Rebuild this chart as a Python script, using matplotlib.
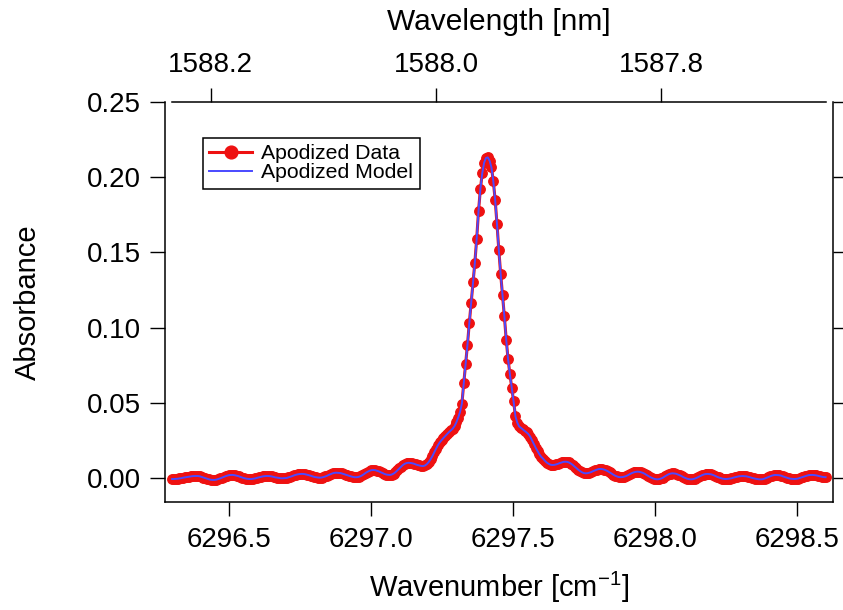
import numpy as np
import matplotlib
matplotlib.use("Agg")
import matplotlib.pyplot as plt
from matplotlib.ticker import FormatStrFormatter

plt.rcParams['font.family'] = ['Liberation Sans', 'DejaVu Sans']
plt.rcParams['mathtext.fontset'] = 'custom'
plt.rcParams['mathtext.rm'] = 'Liberation Sans'
plt.rcParams['mathtext.it'] = 'Liberation Sans:italic'

# Apodized spectrum (uniform wavenumber sampling)
wn_first = 6296.300
wn_last = 6298.601
absorbance = [
    -0.0007, -0.0007, -0.0006, -0.0005, -0.0003, -0.0001, 0.0002, 0.0004, 0.0006, 0.0008, 0.0010, 0.0012, 0.0013, 0.0013,
    0.0013, 0.0011, 0.0007, 0.0003, -0.0001, -0.0005, -0.0009, -0.0012, -0.0013,
    -0.0013, -0.0011, -0.0007, -0.0003, 0.0002, 0.0007, 0.0012, 0.0016, 0.0019, 0.0020,
    0.0020, 0.0018, 0.0015, 0.0012, 0.0007, 0.0003, -0.0001, -0.0004, -0.0006, -0.0007,
    -0.0007, -0.0005, -0.0003, 0.0001, 0.0004, 0.0007, 0.0010, 0.0012, 0.0013,
    0.0013, 0.0012, 0.0010, 0.0007, 0.0004, 0.0002, 0.0000, -0.0002, -0.0002,
    -0.0001, 0.0000, 0.0004, 0.0008, 0.0012, 0.0017, 0.0021, 0.0024, 0.0026, 0.0027,
    0.0027, 0.0025, 0.0022, 0.0019, 0.0015, 0.0011, 0.0007, 0.0005, 0.0003, 0.0002,
    0.0003, 0.0006, 0.0010, 0.0015, 0.0021, 0.0026, 0.0031, 0.0034, 0.0035,
    0.0034, 0.0033, 0.0030, 0.0026, 0.0022, 0.0018, 0.0014, 0.0010, 0.0007, 0.0005, 0.0005,
    0.0007, 0.0011, 0.0018, 0.0026, 0.0035, 0.0042, 0.0048, 0.0052, 0.0053,
    0.0052, 0.0048, 0.0044, 0.0038, 0.0033, 0.0027, 0.0023, 0.0021, 0.0020,
    0.0023, 0.0029, 0.0038, 0.0050, 0.0063, 0.0075, 0.0086, 0.0094, 0.0099, 0.0101,
    0.0100, 0.0098, 0.0095, 0.0090, 0.0086, 0.0083, 0.0080, 0.0079,
    0.0083, 0.0092, 0.0106, 0.0124, 0.0145, 0.0170, 0.0195, 0.0218, 0.0237, 0.0252, 0.0266,
    0.0279, 0.0292, 0.0305, 0.0316, 0.0328, 0.0345, 0.0370, 0.0402, 0.0440, 0.0495,
    0.0630, 0.0755, 0.0885, 0.1030, 0.1165, 0.1300, 0.1430, 0.1590, 0.1775, 0.1920, 0.2025, 0.2095,
    0.2128, 0.2132, 0.2110, 0.2065, 0.1975, 0.1850, 0.1690, 0.1515, 0.1355, 0.1215, 0.1075, 0.0920,
    0.0790, 0.0690, 0.0600, 0.0510, 0.0410, 0.0368,
    0.0343, 0.0333, 0.0323, 0.0313, 0.0303, 0.0292, 0.0275, 0.0250, 0.0225, 0.0200, 0.0178, 0.0157,
    0.0140, 0.0128, 0.0114, 0.0102, 0.0094, 0.0088, 0.0086,
    0.0087, 0.0090, 0.0094, 0.0099, 0.0103, 0.0107, 0.0108,
    0.0107, 0.0103, 0.0096, 0.0087, 0.0076, 0.0066, 0.0055, 0.0046, 0.0038, 0.0033, 0.0031,
    0.0032, 0.0035, 0.0039, 0.0045, 0.0050, 0.0055, 0.0059, 0.0060,
    0.0059, 0.0056, 0.0051, 0.0045, 0.0037, 0.0030, 0.0022, 0.0015, 0.0010, 0.0006, 0.0005,
    0.0006, 0.0009, 0.0013, 0.0019, 0.0026, 0.0032, 0.0037, 0.0040, 0.0042,
    0.0041, 0.0038, 0.0034, 0.0028, 0.0020, 0.0013, 0.0006, 0.0000, -0.0005, -0.0008, -0.0009,
    -0.0007, -0.0003, 0.0003, 0.0011, 0.0018, 0.0025, 0.0029, 0.0031,
    0.0030, 0.0028, 0.0023, 0.0018, 0.0012, 0.0005, 0.0000, -0.0005, -0.0008, -0.0009,
    -0.0008, -0.0005, 0.0000, 0.0006, 0.0012, 0.0018, 0.0023, 0.0026, 0.0027,
    0.0026, 0.0024, 0.0020, 0.0015, 0.0009, 0.0004, 0.0000, -0.0004, -0.0006, -0.0007,
    -0.0006, -0.0004, -0.0002, 0.0002, 0.0005, 0.0008, 0.0011, 0.0012, 0.0013,
    0.0012, 0.0011, 0.0008, 0.0005, 0.0001, -0.0002, -0.0005, -0.0007, -0.0009, -0.0009,
    -0.0008, -0.0004, 0.0001, 0.0006, 0.0011, 0.0016, 0.0019, 0.0020,
    0.0019, 0.0018, 0.0015, 0.0010, 0.0006, 0.0002, -0.0002, -0.0005, -0.0006, -0.0007,
    -0.0006, -0.0004, 0.0000, 0.0004, 0.0008, 0.0012, 0.0016, 0.0019, 0.0020,
    0.0020, 0.0019, 0.0017, 0.0014, 0.0011, 0.0008, 0.0006, 0.0005,
]
wavenumber = np.linspace(wn_first, wn_last, len(absorbance))

bottom_ticks = [6296.5, 6297.0, 6297.5, 6298.0, 6298.5]
left_ticks = [0.00, 0.05, 0.10, 0.15, 0.20, 0.25]
top_ticks = [1588.2, 1588.0, 1587.8]

fig = plt.figure(figsize=(8.43, 6.10), dpi=100)
ax = fig.add_axes([0.1957, 0.1770, 0.7924, 0.6557])

# data with markers, fit drawn on top
ax.plot(wavenumber, absorbance, '-o', color='#ee1111', lw=2.2, ms=6.8,
        mec='#ee1111', label='Apodized Data', zorder=2)
ax.plot(wavenumber, absorbance, color='#4a4aff', lw=1.4,
        label='Apodized Model', zorder=3)

ax.set_xlim(6296.275, 6298.627)
ax.set_ylim(-0.016, 0.25)
ax.set_xticks(bottom_ticks)
ax.set_yticks(left_ticks)
ax.xaxis.set_major_formatter(FormatStrFormatter('%.1f'))
ax.yaxis.set_major_formatter(FormatStrFormatter('%.2f'))

ax.spines['top'].set_visible(False)
for side in ['left', 'right', 'bottom']:
    ax.spines[side].set_linewidth(1.1)

ax.tick_params(axis='y', which='both', direction='out', length=10.5, width=1,
               labelsize=20, pad=7, right=True, labelright=False)
ax.tick_params(axis='x', direction='out', length=10, width=1, labelsize=20, pad=8)

ax.set_ylabel('Absorbance', fontsize=21, labelpad=32)
ax.set_xlabel(r'Wavenumber [cm$^{\mathregular{-1}}$]', fontsize=21, labelpad=12)

# wavelength axis on top
def wn_to_nm(x):
    return 1e7 / np.asarray(x, dtype=float)

top = ax.secondary_xaxis('top', functions=(wn_to_nm, wn_to_nm))
top.set_xticks(top_ticks)
top.xaxis.set_major_formatter(FormatStrFormatter('%.1f'))
top.tick_params(direction='out', length=10, width=1, labelsize=20, pad=7)
top.spines['top'].set_linewidth(1.1)
top.spines['top'].set_bounds(1e7 / wavenumber[-1], 1e7 / wavenumber[0])
top.set_xlabel('Wavelength [nm]', fontsize=21.5, labelpad=16)

leg = ax.legend(loc='upper left', bbox_to_anchor=(0.057, 0.91), borderaxespad=0,
                fontsize=15.3, frameon=True, fancybox=False, framealpha=1,
                edgecolor='black', handlelength=2.0, handletextpad=0.45,
                labelspacing=0.0, borderpad=0.3, markerscale=1.35)
leg.get_frame().set_linewidth(1.1)

plt.savefig('out.png', dpi=100, facecolor='white')
